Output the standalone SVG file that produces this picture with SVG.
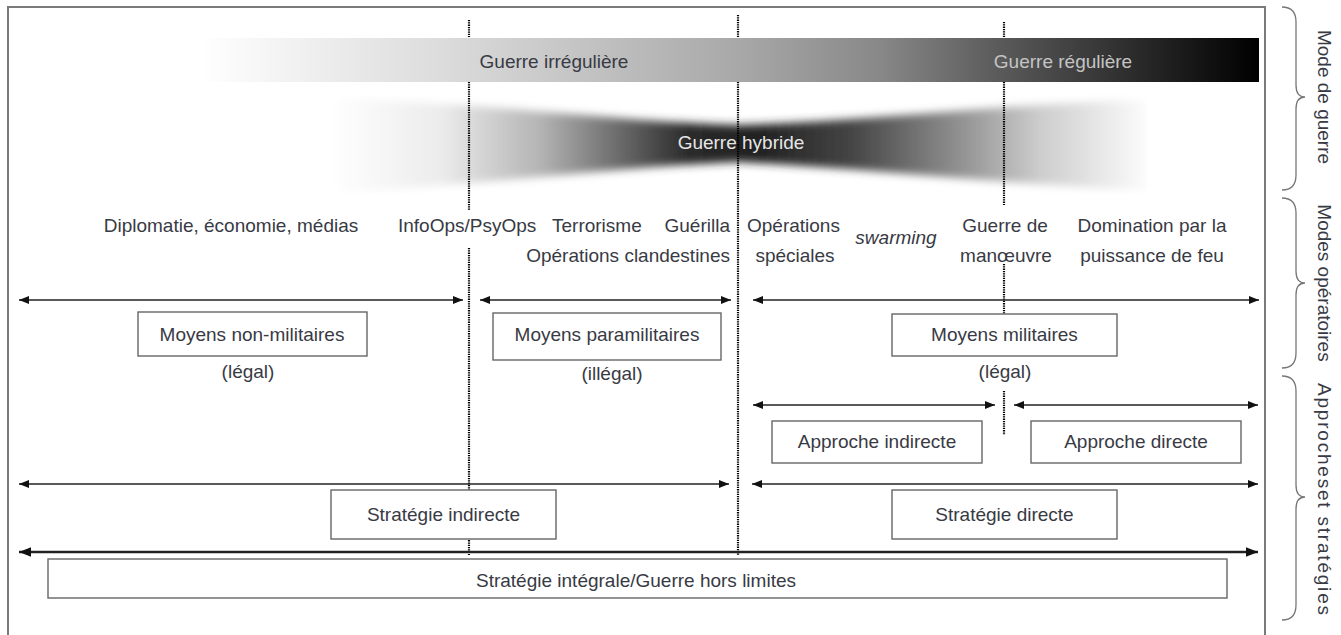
<svg xmlns="http://www.w3.org/2000/svg" width="1341" height="635" viewBox="0 0 1341 635">
<style>
.t{font-family:"Liberation Sans",Arial,sans-serif;font-size:19px;fill:#383a44}
.m{text-anchor:middle}
.e{text-anchor:end}
.box{fill:#fff;stroke:#666;stroke-width:1.4}
.arr{stroke:#222;stroke-width:1.4;fill:none;marker-start:url(#ah);marker-end:url(#ah)}
.arr2{stroke:#222;stroke-width:2.6;fill:none;marker-start:url(#ah2);marker-end:url(#ah2)}
.dot{stroke:#000;stroke-width:2.2;stroke-dasharray:1.3 1;fill:none}
.brace{stroke:#777;stroke-width:1.3;fill:none}
</style>
<defs>
<marker id="ah" viewBox="0 0 10 8" refX="10" refY="4" markerWidth="10" markerHeight="8" markerUnits="userSpaceOnUse" orient="auto-start-reverse"><path d="M0,0 L10,4 L0,8 z" fill="#111"/></marker>
<marker id="ah2" viewBox="0 0 10 8" refX="10" refY="4" markerWidth="12" markerHeight="10" markerUnits="userSpaceOnUse" orient="auto-start-reverse"><path d="M0,0 L10,4 L0,8 z" fill="#111"/></marker>
<linearGradient id="gIrr" gradientUnits="userSpaceOnUse" x1="200" y1="0" x2="1259" y2="0">
<stop offset="0" stop-color="#fff"/>
<stop offset="0.227" stop-color="#dcdcdc"/>
<stop offset="0.51" stop-color="#a8a8a8"/>
<stop offset="0.642" stop-color="#888"/>
<stop offset="0.755" stop-color="#5a5a5a"/>
<stop offset="1" stop-color="#000"/>
</linearGradient>
<linearGradient id="gHyb" gradientUnits="userSpaceOnUse" x1="330" y1="0" x2="1147" y2="0">
<stop offset="0" stop-color="#fff"/>
<stop offset="0.135" stop-color="#ececec"/>
<stop offset="0.257" stop-color="#b4b4b4"/>
<stop offset="0.355" stop-color="#6a6a6a"/>
<stop offset="0.44" stop-color="#2a2a2a"/>
<stop offset="0.526" stop-color="#222"/>
<stop offset="0.636" stop-color="#444"/>
<stop offset="0.759" stop-color="#8a8a8a"/>
<stop offset="0.869" stop-color="#cdcdcd"/>
<stop offset="1" stop-color="#fcfcfc"/>
</linearGradient>
<filter id="soft" x="-5%" y="-20%" width="110%" height="140%"><feGaussianBlur stdDeviation="2 4"/></filter>
</defs>
<rect x="0" y="0" width="1341" height="635" fill="#fff"/>
<rect id="frame" x="8" y="7" width="1257" height="640" fill="none" stroke="#7a7a7a" stroke-width="2"/>

<g id="guerre-hybride">
<path d="M330,98 C500,104 620,122 740,125 C860,122 1000,104 1147,100 L1147,190 C1000,184 860,168 740,162 C620,166 500,184 330,192 Z" fill="url(#gHyb)" filter="url(#soft)"/>
<text class="t m" x="741" y="149" style="fill:#e6e6e6">Guerre hybride</text>
</g>

<g id="connectors">
<path class="dot" d="M469,20 V37 M469,82 V210 M469,248 V555"/>
<path class="dot" d="M738,15 V37 M738,82 V555"/>
<path class="dot" d="M1004,22 V37 M1004,82 V205 M1004,264 V314 M1004,391 V435"/>
<line class="arr" x1="19" y1="300" x2="463" y2="300"/>
<line class="arr" x1="480" y1="300" x2="731" y2="300"/>
<line class="arr" x1="753" y1="300" x2="1259" y2="300"/>
<line class="arr" x1="753" y1="405" x2="995" y2="405"/>
<line class="arr" x1="1014" y1="405" x2="1258" y2="405"/>
<line class="arr" x1="19" y1="484" x2="729" y2="484"/>
<line class="arr" x1="752" y1="484" x2="1258" y2="484"/>
<line class="arr2" x1="19" y1="552" x2="1258" y2="552"/>
</g>

<g id="guerre-irreguliere-reguliere">
<rect x="200" y="38" width="1059" height="44" fill="url(#gIrr)"/>
<text class="t m" x="554" y="68">Guerre irrégulière</text>
<text class="t m" x="1063" y="68" style="fill:#c4c4c4">Guerre régulière</text>
</g>

<g id="modes-operatoires">
<text class="t m" x="231" y="232">Diplomatie, économie,  médias</text>
<text class="t" x="398" y="232">InfoOps/PsyOps</text>
<text class="t" x="552" y="232">Terrorisme</text>
<text class="t e" x="730" y="232">Guérilla</text>
<text class="t e" x="730" y="262">Opérations clandestines</text>
<text class="t" x="747" y="232">Opérations</text>
<text class="t m" x="795" y="262">spéciales</text>
<text class="t m" x="896" y="244" font-style="italic">swarming</text>
<text class="t m" x="1005" y="232">Guerre de</text>
<text class="t m" x="1006" y="262">manœuvre</text>
<text class="t m" x="1152" y="232">Domination par la</text>
<text class="t m" x="1152" y="262">puissance de feu</text>
</g>

<g id="moyens-non-militaires">
<rect class="box" x="138" y="312" width="229" height="44"/>
<text class="t m" x="252" y="341">Moyens non-militaires</text>
<text class="t m" x="248" y="378">(légal)</text>
</g>
<g id="moyens-paramilitaires">
<rect class="box" x="493" y="313" width="228" height="47"/>
<text class="t m" x="607" y="341">Moyens paramilitaires</text>
<text class="t m" x="612" y="380">(illégal)</text>
</g>
<g id="moyens-militaires">
<rect class="box" x="892" y="314" width="225" height="42"/>
<text class="t m" x="1004.5" y="341">Moyens militaires</text>
<text class="t m" x="1005" y="378">(légal)</text>
</g>
<g id="approche-indirecte">
<rect class="box" x="772" y="421" width="210" height="42"/>
<text class="t m" x="877" y="448">Approche indirecte</text>
</g>
<g id="approche-directe">
<rect class="box" x="1031" y="421" width="210" height="42"/>
<text class="t m" x="1136" y="448">Approche directe</text>
</g>
<g id="strategie-indirecte">
<rect class="box" x="331" y="490" width="225" height="49"/>
<text class="t m" x="443.5" y="521">Stratégie indirecte</text>
</g>
<g id="strategie-directe">
<rect class="box" x="892" y="490" width="225" height="49"/>
<text class="t m" x="1004.5" y="521">Stratégie directe</text>
</g>
<g id="strategie-integrale">
<rect class="box" x="48" y="559" width="1179" height="39"/>
<text class="t m" x="636" y="587">Stratégie intégrale/Guerre hors limites</text>
</g>

<g id="brace-mode-de-guerre">
<path class="brace" d="M1282,7 Q1296,7 1296,22 L1296,85 Q1296,97 1305,97 Q1296,97 1296,109 L1296,175 Q1296,190 1282,190"/>
<text class="t m" transform="translate(1324,97) rotate(90)" y="6.5">Mode de guerre</text>
</g>
<g id="brace-modes-operatoires">
<path class="brace" d="M1282,198 Q1296,198 1296,213 L1296,271 Q1296,283 1305,283 Q1296,283 1296,295 L1296,353 Q1296,368 1282,368"/>
<text class="t m" transform="translate(1324,283) rotate(90)" y="6.5">Modes opératoires</text>
</g>
<g id="brace-approches">
<path class="brace" d="M1282,376 Q1296,376 1296,391 L1296,485 Q1296,497 1305,497 Q1296,497 1296,509 L1296,605 Q1296,620 1282,620"/>
<text class="t m" transform="translate(1324,499) rotate(90)" y="6.5" textLength="232" lengthAdjust="spacing">Approcheset stratégies</text>
</g>
</svg>
